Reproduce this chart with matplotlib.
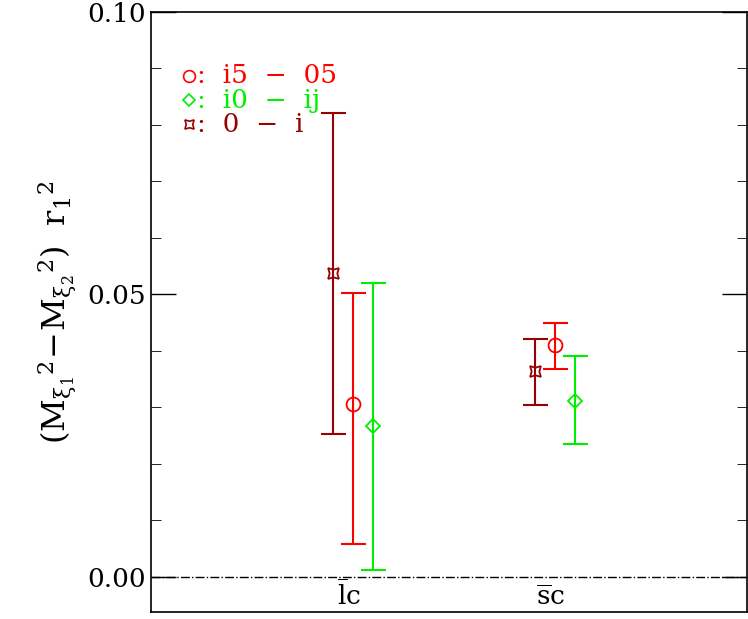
import matplotlib
matplotlib.use('Agg')
import matplotlib.pyplot as plt

plt.rcParams['font.family'] = 'DejaVu Serif'
plt.rcParams['mathtext.fontset'] = 'dejavuserif'

# x positions for the two groups and offsets per series
cats = [r'$\overline{\rm l}$c', r'$\overline{\rm s}$c']
cat_x = [1.0, 2.0]

labels = ['i5  \u2212  05', 'i0  \u2212  ij', '0  \u2212  i']
offsets = [0.0, 0.1, -0.1]
vals = [[0.0306, 0.0411], [0.0267, 0.0311], [0.0538, 0.0365]]
err_hi = [[0.0503, 0.0450], [0.0520, 0.0391], [0.0821, 0.0421]]
err_lo = [[0.0058, 0.0368], [0.0012, 0.0235], [0.0253, 0.0304]]
colors = ['#ff0000', '#00ee00', '#990000']
markers = ['o', 'D', (4, 1, 45)]
msizes = [10, 7, 11]

fig = plt.figure(figsize=(7.48, 6.19), dpi=100)
ax = fig.add_axes([151/748, 7/619, 596/748, 600/619])

for i in range(3):
    xs = [c + offsets[i] for c in cat_x]
    lo = [v - l for v, l in zip(vals[i], err_lo[i])]
    hi = [h - v for v, h in zip(vals[i], err_hi[i])]
    ax.errorbar(xs, vals[i], yerr=[lo, hi], fmt='none', ecolor=colors[i],
                elinewidth=1.5, capsize=9, capthick=1.5)
    ax.plot(xs, vals[i], linestyle='none', marker=markers[i], ms=msizes[i],
            mfc='none', mec=colors[i], mew=1.3)

ax.axhline(0, color='black', linestyle='-.', linewidth=1)

# legend as text
for i in range(3):
    yy = 0.0887 - i * 0.0043
    ax.plot([0.19], [yy], linestyle='none', marker=markers[i], ms=msizes[i] * 0.85,
            mfc='none', mec=colors[i], mew=1.2)
    ax.text(0.23, yy, ':  ' + labels[i], color=colors[i], fontsize=19, va='center')

# category labels sit inside the axes, just above the bottom spine
for c, lab in zip(cat_x, cats):
    ax.text(c - 0.02, -0.0058, lab, fontsize=19, ha='center', va='bottom')

ax.set_xlim(0, 2.95)
ax.set_ylim(-0.0062, 0.10)
ax.set_xticks([])
ax.set_yticks([0.0, 0.05, 0.10])
ax.set_yticklabels(['0.00', '0.05', '0.10'], fontsize=19)
ax.set_yticks([0.01 * k for k in range(11)], minor=True)
ax.tick_params(axis='y', which='major', direction='in', length=18, right=True, width=1)
ax.tick_params(axis='y', which='minor', direction='in', length=7, right=True)
ax.set_ylabel(r'$(\mathrm{M_{\xi_1}}^{2}\!-\!\mathrm{M_{\xi_2}}^{2})\ \ \mathrm{r_1}^{2}$', fontsize=23, labelpad=6)
for s in ax.spines.values():
    s.set_linewidth(1.2)

fig.savefig('out.png', dpi=100)
